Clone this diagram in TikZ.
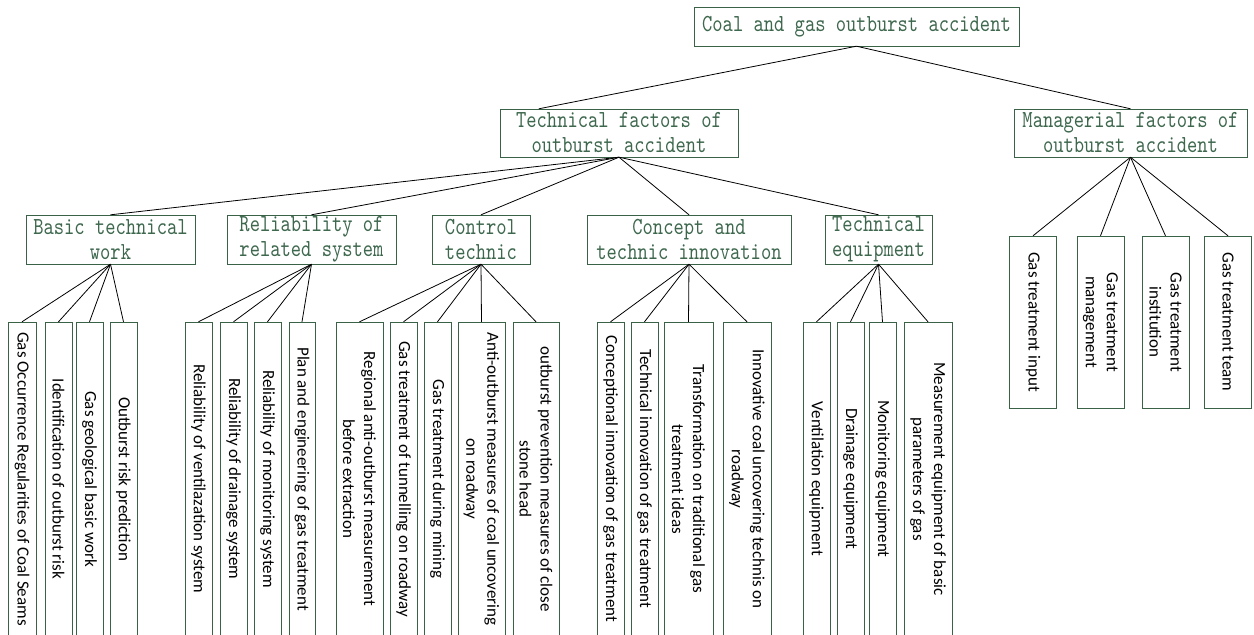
\documentclass[tikz,border=0pt]{standalone}
\usepackage{fontspec}
\setmainfont{Carlito}
\newfontfamily\boxfont{lmmono10-regular}[Extension=.otf,FakeStretch=0.8]
\definecolor{boxline}{RGB}{58,98,70}
\definecolor{boxtext}{RGB}{62,104,78}

\begin{document}
\begin{tikzpicture}[x=1pt,y=-1pt,
		box/.style={rectangle,draw=boxline,text=boxtext,inner sep=0pt,align=center,
			font=\boxfont\fontsize{24.5}{25}\selectfont},
		leaf/.style={rectangle,draw=boxline,rotate=-90,inner sep=0pt,align=center,
			minimum width=314pt,font=\fontsize{17}{21}\selectfont},
		link/.style={draw=black,line width=0.8pt}]
		\useasboundingbox (0,0) rectangle (1254,635);
		\clip (0,0) rectangle (1254,635);

		% top and first level
		\node[box,minimum width=325pt,minimum height=39pt] (accident) at (856.5,26.5) {Coal and gas outburst accident};
		\node[box,minimum width=238pt,minimum height=48pt] (technical) at (619,133) {Technical factors of\\outburst accident};
		\node[box,minimum width=233pt,minimum height=48pt] (managerial) at (1130.5,133) {Managerial factors of\\outburst accident};

		% second level
		\node[box,minimum width=169pt,minimum height=49pt] (basic) at (110.5,239.5) {Basic technical\\work};
		\node[box,minimum width=169pt,minimum height=49pt] (reliab) at (311.5,239.5) {Reliability of\\related system};
		\node[box,minimum width=98pt,minimum height=49pt] (control) at (481,239.5) {Control\\technic};
		\node[box,minimum width=204pt,minimum height=49pt] (concept) at (689,239.5) {Concept and\\technic innovation};
		\node[box,minimum width=107pt,minimum height=49pt] (equip) at (878.5,239.5) {Technical\\equipment};

		% leaves
		\foreach \n/\x/\w/\t in {
				b1/22/28/{Gas Occurrence Regularities of Coal Seams},
				b2/58.5/27/{Identification of outburst risk},
				b3/89.5/27/{Gas geological basic work},
				b4/123.5/27/{Outburst risk prediction},
				r1/198.5/27/{Reliability of ventilazation system},
				r2/233.5/27/{Reliability of drainage system},
				r3/267.5/27/{Reliability of monitoring system},
				r4/302/26/{Plan and engineering of gas treatment},
				c1/359.5/47/{Regional anti-outburst measurement\\before extraction},
				c2/403.5/27/{Gas treatment of tunnelling on roadway},
				c3/437.5/27/{Gas treatment during mining},
				c4/481.5/47/{Anti-outburst measures of coal uncovering\\on roadway},
				c5/536/46/{outburst prevention measures of close\\stone head},
				i1/610.5/27/{Conceptional innovation of gas treatment},
				i2/644.5/27/{Technical innovation of gas treatment},
				i3/688.5/49/{Transformation on traditional gas\\treatment ideas},
				i4/747/48/{Innovative coal uncovering technis on\\roadway},
				e1/816.5/27/{Ventilation equipment},
				e2/850.5/27/{Drainage equipment},
				e3/882.5/27/{Monitoring equipment},
				e4/928/48/{Measurement equipment of basic\\parameters of gas}}
			\node[leaf,minimum height=\w pt] (\n) at (\x,479) {\t};

		\foreach \n/\x/\t in {
				m1/1033/{Gas treatment input},
				m2/1100.5/{Gas treatment\\management},
				m3/1165.5/{Gas treatment\\institution},
				m4/1228/{Gas treatment team}}
			\node[leaf,minimum width=172pt,minimum height=47pt] (\n) at (\x,322) {\t};

		% connectors
		\path[link] (accident.south) -- ([xshift=39pt]technical.north west)
			(accident.south) -- (managerial.north);
		\foreach \n in {basic,reliab,control,concept,equip}
			\draw[link] (technical.south) -- (\n.north);
		\foreach \n in {b1,b2,b3,b4}
			\draw[link] (basic.south) -- (\n.west);
		\foreach \n in {r1,r2,r3,r4}
			\draw[link] (reliab.south) -- (\n.west);
		\foreach \n in {c1,c2,c3,c4,c5}
			\draw[link] (control.south) -- (\n.west);
		\foreach \n in {i1,i2,i3,i4}
			\draw[link] (concept.south) -- (\n.west);
		\foreach \n in {e1,e2,e3,e4}
			\draw[link] (equip.south) -- (\n.west);
		\foreach \n in {m1,m2,m3,m4}
			\draw[link] (managerial.south) -- (\n.west);
\end{tikzpicture}
\end{document}
